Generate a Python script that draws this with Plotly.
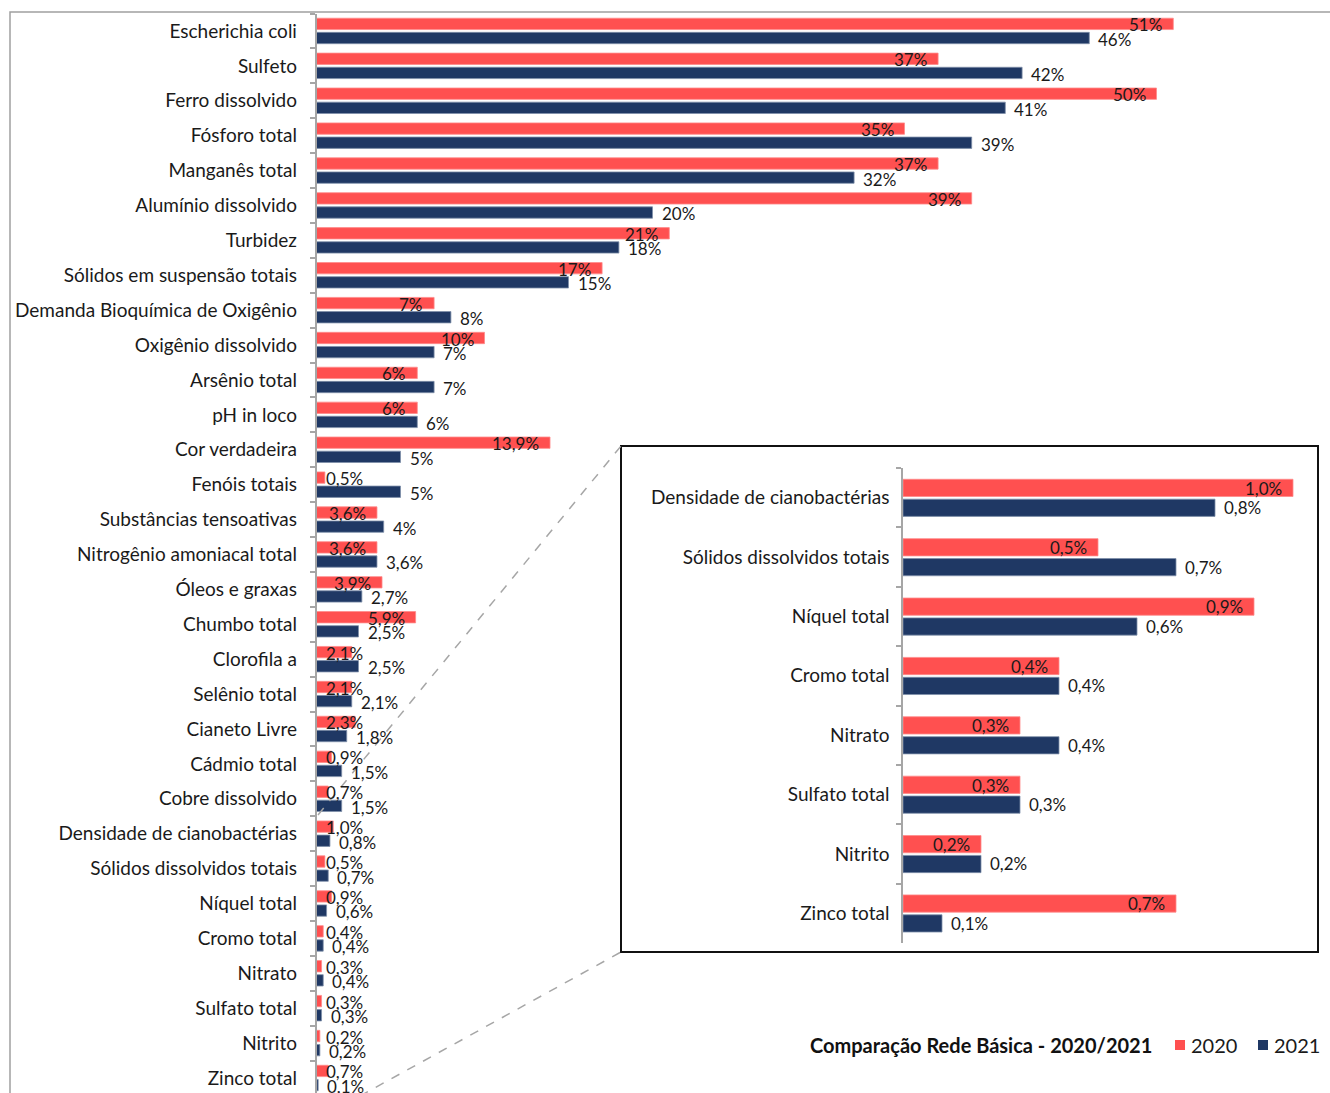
import plotly.graph_objects as go

# Parameters of the basic monitoring network, share (%) per year
parametros = [
    "Escherichia coli", "Sulfeto", "Ferro dissolvido", "Fósforo total",
    "Manganês total", "Alumínio dissolvido", "Turbidez",
    "Sólidos em suspensão totais", "Demanda Bioquímica de Oxigênio",
    "Oxigênio dissolvido", "Arsênio total", "pH in loco", "Cor verdadeira",
    "Fenóis totais", "Substâncias tensoativas", "Nitrogênio amoniacal total",
    "Óleos e graxas", "Chumbo total", "Clorofila a", "Selênio total",
    "Cianeto Livre", "Cádmio total", "Cobre dissolvido",
    "Densidade de cianobactérias", "Sólidos dissolvidos totais",
    "Níquel total", "Cromo total", "Nitrato", "Sulfato total", "Nitrito",
    "Zinco total",
]
v2020 = [51, 37, 50, 35, 37, 39, 21, 17, 7, 10, 6, 6, 13.9, 0.5, 3.6, 3.6,
         3.9, 5.9, 2.1, 2.1, 2.3, 0.9, 0.7, 1.0, 0.5, 0.9, 0.4, 0.3, 0.3,
         0.2, 0.7]
v2021 = [46, 42, 41, 39, 32, 20, 18, 15, 8, 7, 7, 6, 5, 5, 4, 3.6, 2.7,
         2.5, 2.5, 2.1, 1.8, 1.5, 1.5, 0.8, 0.7, 0.6, 0.4, 0.4, 0.3, 0.2,
         0.1]
# number of decimals shown in each label
dec2020 = [0, 0, 0, 0, 0, 0, 0, 0, 0, 0, 0, 0, 1, 1, 1, 1, 1, 1, 1, 1, 1,
           1, 1, 1, 1, 1, 1, 1, 1, 1, 1]
dec2021 = [0, 0, 0, 0, 0, 0, 0, 0, 0, 0, 0, 0, 0, 0, 0, 1, 1, 1, 1, 1, 1,
           1, 1, 1, 1, 1, 1, 1, 1, 1, 1]
n_zoom = 8  # last parameters repeated in the detail panel

RED = "#FF5050"
NAVY = "#1F3864"
FONT = "Lato"
W, H = 1330, 1093


def fmt(v, d):
    return (f"{v:.{d}f}" if d else f"{v:.0f}").replace(".", ",") + "%"


def px(xp):
    return xp / W


def py(yp):
    return 1 - yp / H


# main panel geometry
MAIN_X0 = 316.5
MAIN_K = 16.8          # pixels per percentage point
MAIN_TOP = 13.5
ROW = (H - MAIN_TOP) / 30.93
# detail panel geometry
INS_X0, INS_X1 = 903, 1310
INS_K = 390
INS_Y0, INS_Y1 = 468, 943

fig = go.Figure()

bar_w_main = 0.325
fig.add_trace(go.Bar(
    y=parametros, x=v2020, orientation="h", name="2020",
    marker=dict(color=RED, line=dict(color="#FF8A8A", width=0.8)),
    width=bar_w_main, offset=-0.365, xaxis="x", yaxis="y",
    hoverinfo="x+y", showlegend=False))
fig.add_trace(go.Bar(
    y=parametros, x=v2021, orientation="h", name="2021",
    marker=dict(color=NAVY, line=dict(color="#7F8FAA", width=0.8)),
    width=bar_w_main, offset=0.04, xaxis="x", yaxis="y",
    hoverinfo="x+y", showlegend=False))

zp = parametros[-n_zoom:]
z20 = v2020[-n_zoom:]
z21 = v2021[-n_zoom:]
bar_w_ins = 0.29
fig.add_trace(go.Bar(
    y=zp, x=z20, orientation="h", name="2020",
    marker=dict(color=RED, line=dict(color="#FF8A8A", width=0.8)),
    width=bar_w_ins, offset=-0.31, xaxis="x2", yaxis="y2",
    hoverinfo="x+y", showlegend=False))
fig.add_trace(go.Bar(
    y=zp, x=z21, orientation="h", name="2021",
    marker=dict(color=NAVY, line=dict(color="#7F8FAA", width=0.8)),
    width=bar_w_ins, offset=0.025, xaxis="x2", yaxis="y2",
    hoverinfo="x+y", showlegend=False))

annotations = []
lab_font = dict(family=FONT, size=17, color="#1a1a1a")


def text_w(s):
    w = 0
    for ch in s:
        w += 14.3 if ch == "%" else (4.5 if ch == "," else 9.5)
    return w


def add_labels(names, a, b, da, db, xr, yr, k, ys_a, ys_b):
    for name, va, vb, d1, d2 in zip(names, a, b, da, db):
        ta = fmt(va, d1)
        if va * k - 18 >= text_w(ta):
            annotations.append(dict(
                x=va, y=name, xref=xr, yref=yr, text=ta, showarrow=False,
                xanchor="right", yanchor="middle", xshift=-9, yshift=ys_a,
                font=lab_font))
        else:
            annotations.append(dict(
                x=0, y=name, xref=xr, yref=yr, text=ta, showarrow=False,
                xanchor="left", yanchor="middle", xshift=7, yshift=ys_a,
                font=lab_font))
        annotations.append(dict(
            x=vb, y=name, xref=xr, yref=yr, text=fmt(vb, d2),
            showarrow=False, xanchor="left", yanchor="middle", xshift=7,
            yshift=ys_b, font=lab_font))


add_labels(parametros, v2020, v2021, dec2020, dec2021, "x", "y", MAIN_K,
           6, -8.5)
add_labels(zp, z20, z21, dec2020[-n_zoom:], dec2021[-n_zoom:], "x2", "y2",
           INS_K, 9.5, -10)

# legend
leg_y = 1045
annotations += [
    dict(x=px(1154), y=py(leg_y), xref="paper", yref="paper",
         text="<b>Comparação Rede Básica - 2020/2021</b>", showarrow=False,
         xanchor="right", yanchor="middle",
         font=dict(family=FONT, size=20, color="#111111")),
    dict(x=px(1189), y=py(leg_y), xref="paper", yref="paper", text="2020",
         showarrow=False, xanchor="left", yanchor="middle",
         font=dict(family=FONT, size=20, color="#1a1a1a")),
    dict(x=px(1272), y=py(leg_y), xref="paper", yref="paper", text="2021",
         showarrow=False, xanchor="left", yanchor="middle",
         font=dict(family=FONT, size=20, color="#1a1a1a")),
]

shapes = [
    # outer chart frame
    dict(type="rect", xref="paper", yref="paper", x0=px(10), x1=1.02,
         y0=-0.02, y1=py(12), line=dict(color="#A0A0A0", width=1.5),
         layer="below"),
    # detail panel frame
    dict(type="rect", xref="paper", yref="paper", x0=px(621), x1=px(1318),
         y0=py(952), y1=py(446), line=dict(color="#111111", width=2),
         fillcolor="white", layer="below"),
    # connectors from zoomed rows to the detail panel
    dict(type="line", xref="paper", yref="paper", x0=px(318), y0=py(815),
         x1=px(621), y1=py(446),
         line=dict(color="#A6A6A6", width=1.5, dash="dash")),
    dict(type="line", xref="paper", yref="paper", x0=px(360), y0=py(1096),
         x1=px(621), y1=py(952),
         line=dict(color="#A6A6A6", width=1.5, dash="dash")),
    # legend keys
    dict(type="rect", xref="paper", yref="paper", x0=px(1175), x1=px(1185),
         y0=py(1050), y1=py(1040), fillcolor=RED, line=dict(width=0)),
    dict(type="rect", xref="paper", yref="paper", x0=px(1258), x1=px(1268),
         y0=py(1050), y1=py(1040), fillcolor=NAVY, line=dict(width=0)),
]

cat_axis = dict(
    type="category", showline=True, linecolor="#A6A6A6", linewidth=1.5,
    ticks="outside", tickson="boundaries", ticklen=5, tickcolor="#A6A6A6",
    tickwidth=1.5, showgrid=False, zeroline=False,
    tickfont=dict(family=FONT, size=19, color="#1a1a1a"),
)

fig.update_layout(
    width=W, height=H,
    margin=dict(l=0, r=0, t=0, b=0),
    paper_bgcolor="white", plot_bgcolor="rgba(0,0,0,0)",
    barmode="overlay",
    showlegend=False,
    xaxis=dict(domain=[px(MAIN_X0), 1.0],
               range=[0, (W - MAIN_X0) / MAIN_K], visible=False,
               anchor="y"),
    yaxis=dict(domain=[0, py(MAIN_TOP)],
               range=[-0.5 + (H - MAIN_TOP) / ROW, -0.5],
               categoryorder="array", categoryarray=parametros,
               anchor="x", ticklabelstandoff=14, **cat_axis),
    xaxis2=dict(domain=[px(INS_X0), px(INS_X1)],
                range=[0, (INS_X1 - INS_X0) / INS_K], visible=False,
                anchor="y2"),
    yaxis2=dict(domain=[py(INS_Y1), py(INS_Y0)], range=[n_zoom - 0.5, -0.5],
                categoryorder="array", categoryarray=zp, anchor="x2",
                ticklabelstandoff=8, **cat_axis),
    annotations=annotations,
    shapes=shapes,
    font=dict(family=FONT),
)

fig.write_html("out.html")
